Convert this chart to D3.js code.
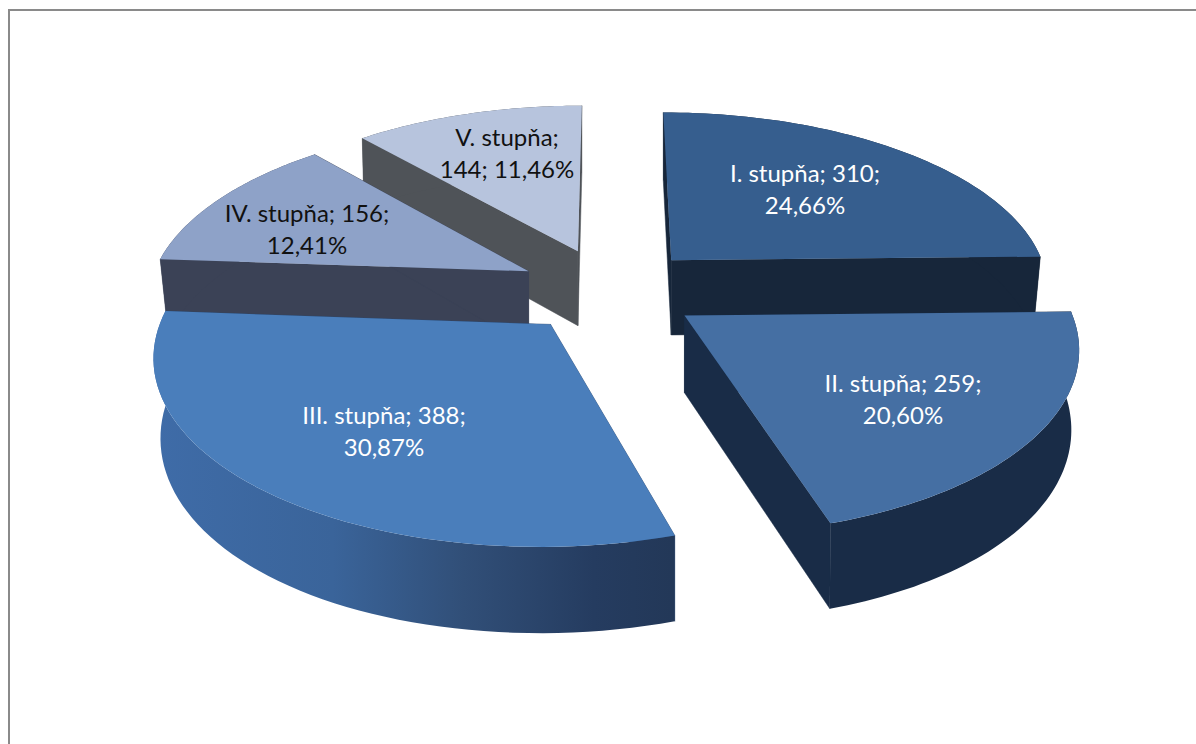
<!DOCTYPE html>
<html><head><meta charset="utf-8">
<script src="https://cdn.jsdelivr.net/npm/d3@7"></script>
<style>html,body{margin:0;padding:0;background:#fff}svg{display:block}</style>
</head><body><div id="c"></div>
<script>
const categories = ["I. stupňa","II. stupňa","III. stupňa","IV. stupňa","V. stupňa"];
const values = [310,259,388,156,144];
const percents = ["24,66%","20,60%","30,87%","12,41%","11,46%"];

const W=1196,H=744;
// layout
const X0=609,Y0=290,A=380,B=178,K=0.149,DEPTH=76,K_DEPTH=0.1,NARROW=0.012,EXPLODE=0.24;
const topFill=["#365e8e","#456fa3","#4a7ebb","#8ea2c8","#b7c4dd"];
const wallFill=["#17263a","#192c47","#2b4a75","#3b4256","#4f5358"];
const labelAt=[[805,182],[903,392],[384,424],[307,222],[507,146]];
const labelColor=["#fff","#fff","#fff","#111","#111"];
const drawOrder=[4,3,0,2,1];

const svg=d3.select("#c").append("svg").attr("width",W).attr("height",H);
svg.append("rect").attr("width",W).attr("height",H).attr("fill","#fff");
svg.append("path").attr("d",`M9,${H}V10H${W}`).attr("fill","none").attr("stroke","#8a8a8a").attr("stroke-width",2);

const defs=svg.append("defs");
const g=defs.append("linearGradient").attr("id","w3").attr("gradientUnits","userSpaceOnUse")
  .attr("x1",150).attr("x2",672).attr("y1",0).attr("y2",0);
[[0,"#3f6ca8"],[0.35,"#3a649a"],[0.6,"#314f78"],[0.85,"#253c60"],[1,"#233858"]].forEach(s=>g.append("stop").attr("offset",s[0]).attr("stop-color",s[1]));

const arcs=d3.pie().sort(null).value(d=>d)(values);
const uScale=d3.scaleLinear().domain([0,1]).range([0,A]);
const vScale=d3.scaleLinear().domain([0,1]).range([0,B]);
function proj(u,v,down){
  const w=1+K*v;
  const x=uScale(u)/w*(down?1-NARROW*u*u:1);
  return [X0+x, Y0-vScale(v)/w+(down?DEPTH/(1+K_DEPTH*v):0)];
}
const line=d3.line();
function pieces(d){
  const mid=(d.startAngle+d.endAngle)/2;
  const ou=EXPLODE*Math.sin(mid), ov=EXPLODE*Math.cos(mid);
  const rim=d3.range(0,61).map(i=>{
    const t=d.startAngle+(d.endAngle-d.startAngle)*i/60;
    return [ou+Math.sin(t),ov+Math.cos(t)];
  });
  const P=(p,dn)=>proj(p[0],p[1],dn);
  const ap=[ou,ov];
  const top=[P(ap,false),...rim.map(p=>P(p,false))];
  const outer=[...rim.map(p=>P(p,false)),...rim.slice().reverse().map(p=>P(p,true))];
  const a=rim[0],b=rim[60];
  const w1=[P(ap,false),P(a,false),P(a,true),P(ap,true)];
  const w2=[P(ap,false),P(b,false),P(b,true),P(ap,true)];
  return {top,outer,w1,w2};
}
drawOrder.forEach(i=>{
  const p=pieces(arcs[i]);
  const gg=svg.append("g");
  const wf=wallFill[i];
  [p.w1,p.w2].forEach(q=>gg.append("path").attr("d",line(q)+"Z").attr("fill",wf).attr("stroke",wf).attr("stroke-width",0.5));
  const of=i===2?"url(#w3)":wf;
  gg.append("path").attr("d",line(p.outer)+"Z").attr("fill",of);
  gg.append("path").attr("d",line(p.top)+"Z").attr("fill",topFill[i]);
});

categories.forEach((c,i)=>{
  const lines = i===4 ? [c+";", values[i]+"; "+percents[i]] : [c+"; "+values[i]+";", percents[i]];
  const t=svg.append("text").attr("font-family","Lato, sans-serif").attr("font-size",24)
    .attr("text-anchor","middle").attr("fill",labelColor[i]);
  lines.forEach((s,j)=>t.append("tspan").attr("x",labelAt[i][0]).attr("y",labelAt[i][1]+j*32).text(s));
});
</script></body></html>
